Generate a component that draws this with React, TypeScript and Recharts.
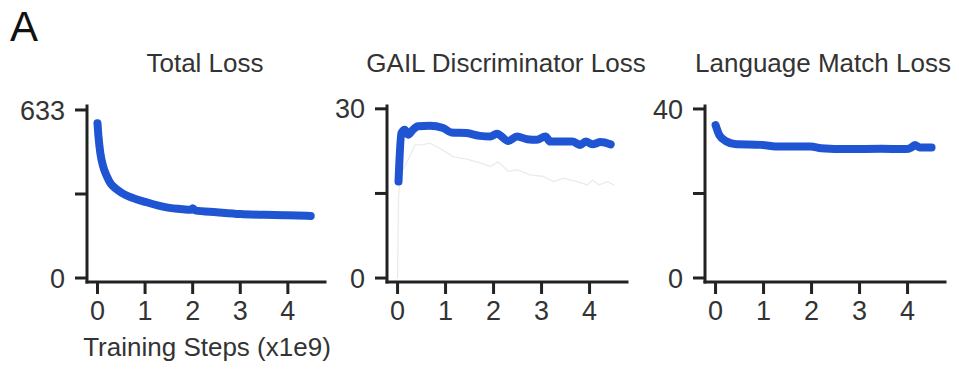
import React from 'react';
import { LineChart, Line, XAxis, YAxis } from 'recharts';

// step values are in units of 1e9 training steps
const totalSteps = [0, 0.02, 0.06, 0.12, 0.2, 0.28, 0.375, 0.5, 0.75, 1.0, 1.45, 1.8, 1.97, 2.0, 2.05, 2.5, 3.0, 3.5, 4.0, 4.48];
const totalLoss = [583, 535, 471, 420, 382, 355, 338, 322, 301, 287, 266, 259, 257, 263, 255, 248, 241, 238, 236, 234];

const gailSteps = [0.02, 0.08, 0.15, 0.22, 0.32, 0.43, 0.67, 0.95, 1.12, 1.44, 1.72, 1.93, 2.07, 2.31, 2.49, 2.7, 2.9, 3.08, 3.18, 3.46, 3.64, 3.81, 3.92, 4.06, 4.23, 4.44];
const gailLoss = [17.1, 25.7, 26.3, 25.4, 26.3, 26.9, 27.0, 26.6, 25.8, 25.7, 25.2, 25.1, 25.6, 24.3, 25.1, 24.6, 24.5, 25.1, 24.2, 24.2, 24.2, 23.6, 24.2, 23.7, 24.1, 23.7];

const gailRefSteps = [0, 0.02, 0.06, 0.15, 0.25, 0.36, 0.5, 0.67, 0.88, 1.05, 1.16, 1.44, 1.72, 1.93, 2.1, 2.31, 2.49, 2.76, 3.04, 3.25, 3.46, 3.74, 3.95, 4.06, 4.2, 4.37, 4.51];
const gailRefLoss = [0, 14.5, 18.5, 19.8, 21.5, 23.6, 23.6, 23.9, 23.0, 22.1, 21.5, 21.1, 20.4, 19.8, 20.6, 18.9, 19.2, 18.3, 18.0, 17.1, 17.7, 17.1, 16.5, 17.4, 16.5, 17.1, 16.5];

const langSteps = [0, 0.08, 0.23, 0.4, 0.95, 1.35, 1.98, 2.2, 2.75, 3.45, 3.95, 4.08, 4.15, 4.25, 4.5];
const langLoss = [36.2, 33.8, 32.3, 31.7, 31.5, 31.1, 31.1, 30.7, 30.5, 30.6, 30.5, 30.9, 31.5, 30.9, 30.9];

const xTicks = [0, 1, 2, 3, 4];
const titles = ['Total Loss', 'GAIL Discriminator Loss', 'Language Match Loss'];
const yMax = [633, 30, 40];

const BLUE = '#1f54d2';
const FONT = '"Liberation Sans", Arial, sans-serif';

const toRows = (xs: number[], ys: number[]) => xs.map((x, i) => ({ x, y: ys[i] }));

interface PanelProps {
  left: number;
  yWidth: number;
  plotWidth: number;
  top: number;
  max: number;
  yDomain: [number, number];
  series: { data: { x: number; y: number }[]; color: string; width: number; curve: 'monotone' | 'linear' }[];
}

function Panel({ left, yWidth, plotWidth, top, max, yDomain, series }: PanelProps) {
  const tickStyle = { fill: '#333', fontSize: 27, fontFamily: FONT };
  const axisLine = { stroke: '#222', strokeWidth: 3, strokeLinecap: 'square' as const };
  return (
    <div style={{ position: 'absolute', left, top }}>
      <LineChart
        width={yWidth + plotWidth + 6}
        height={236}
        margin={{ top: 16, right: 6, bottom: 0, left: 0 }}
      >
        <XAxis
          type="number"
          dataKey="x"
          domain={[-0.22, 4.78]}
          ticks={xTicks}
          allowDataOverflow
          height={44}
          tickSize={12}
          tickMargin={7}
          axisLine={axisLine}
          tickLine={{ stroke: '#222', strokeWidth: 3 }}
          tick={tickStyle}
        />
        <YAxis
          type="number"
          dataKey="y"
          domain={yDomain}
          ticks={[0, max / 2, max]}
          allowDataOverflow
          width={yWidth}
          tickSize={12}
          tickMargin={10}
          interval={0}
          tickFormatter={(v: number) => (v === max / 2 ? '' : String(v))}
          axisLine={axisLine}
          tickLine={{ stroke: '#222', strokeWidth: 3 }}
          tick={tickStyle}
        />
        {series.map((s, i) => (
          <Line
            key={i}
            data={s.data}
            dataKey="y"
            type={s.curve}
            stroke={s.color}
            strokeWidth={s.width}
            strokeLinecap="round"
            strokeLinejoin="round"
            dot={false}
            activeDot={false}
            isAnimationActive={false}
          />
        ))}
      </LineChart>
    </div>
  );
}

export default function App() {
  const label: React.CSSProperties = {
    position: 'absolute',
    width: 320,
    textAlign: 'center',
    fontFamily: FONT,
    fontSize: 26,
    lineHeight: '26px',
    color: '#333',
    whiteSpace: 'nowrap',
  };
  return (
    <div style={{ position: 'absolute', left: 0, top: 0, width: 959, height: 371, background: '#fff', overflow: 'hidden' }}>
      <div style={{ position: 'absolute', left: 10, top: 6, fontFamily: FONT, fontSize: 42, lineHeight: '42px', color: '#111' }}>A</div>
      <div style={{ ...label, left: 205 - 160, top: 50 }}>{titles[0]}</div>
      <div style={{ ...label, left: 506 - 160, top: 50 }}>{titles[1]}</div>
      <div style={{ ...label, left: 823 - 160, top: 50 }}>{titles[2]}</div>
      <Panel
        left={0}
        yWidth={87}
        plotWidth={238}
        top={90}
        max={yMax[0]}
        yDomain={[-15, 648]}
        series={[{ data: toRows(totalSteps, totalLoss), color: BLUE, width: 8, curve: 'monotone' }]}
      />
      <Panel
        left={331}
        yWidth={56}
        plotWidth={240}
        top={90}
        max={yMax[1]}
        yDomain={[-0.7, 30.5]}
        series={[
          { data: toRows(gailRefSteps, gailRefLoss), color: '#ebebeb', width: 1.3, curve: 'linear' },
          { data: toRows(gailSteps, gailLoss), color: BLUE, width: 8, curve: 'monotone' },
        ]}
      />
      <Panel
        left={646}
        yWidth={59}
        plotWidth={240}
        top={90}
        max={yMax[2]}
        yDomain={[-0.95, 40.7]}
        series={[{ data: toRows(langSteps, langLoss), color: BLUE, width: 8, curve: 'monotone' }]}
      />
      <div style={{ ...label, left: 207 - 160, top: 334 }}>Training Steps (x1e9)</div>
    </div>
  );
}
